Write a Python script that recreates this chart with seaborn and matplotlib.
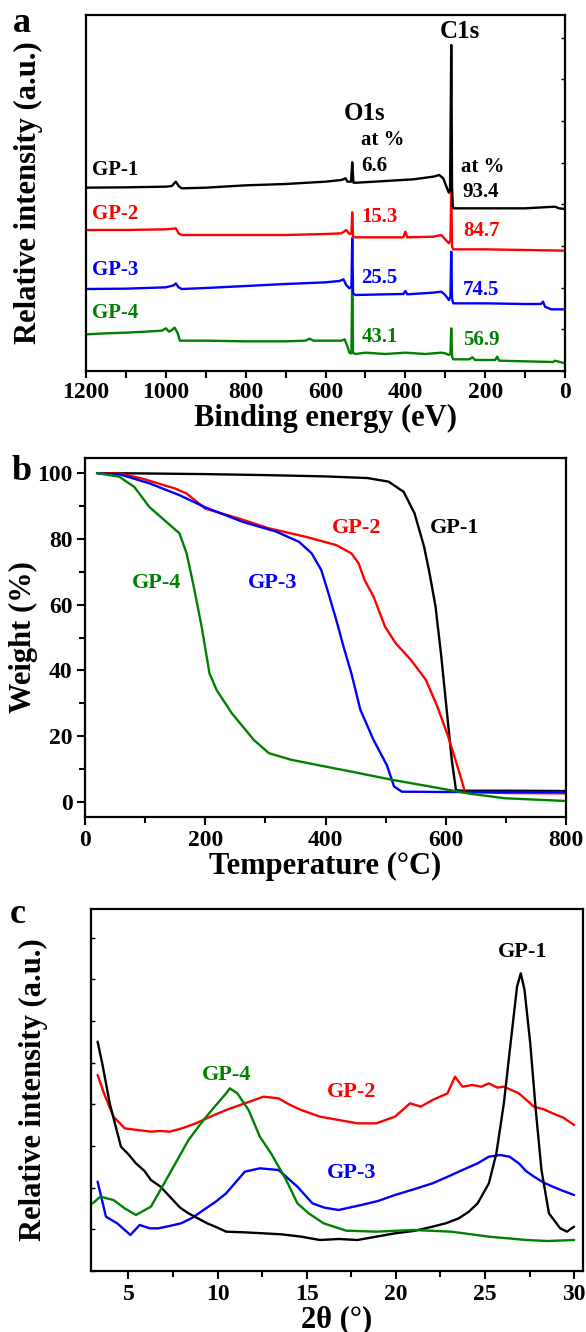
import matplotlib
matplotlib.use("Agg")
import numpy as np
import pandas as pd
import matplotlib.pyplot as plt
import seaborn as sns
from matplotlib.ticker import MultipleLocator

# ---------------- (a) XPS survey spectra ----------------
xps_energy_gp1 = [1200, 1100, 1000, 985, 975, 968, 960, 900, 800, 700, 600, 560, 550, 545,
                  536, 533, 530, 520, 450, 380, 330, 315, 305, 297, 291, 288, 286, 285, 284,
                  283, 281, 278, 200, 100, 25, 15, 0]
xps_int_gp1 = [55.0, 55.1, 55.3, 55.5, 56.8, 55.5, 54.8, 55.0, 55.7, 56.1, 56.8, 57.3, 57.8, 56.8,
               56.8, 62.6, 56.5, 56.5, 57.0, 57.5, 58.3, 58.8, 57.8, 55.3, 53.5, 54.3, 81.3, 97.8,
               81.3, 55.3, 49.3, 48.8, 48.8, 48.8, 49.3, 48.8, 48.6]

xps_energy_gp2 = [1200, 1100, 1000, 980, 975, 968, 960, 800, 700, 600, 560, 548, 540, 535, 533,
                  531, 525, 450, 405, 400, 395, 330, 310, 300, 291, 287, 285, 283, 280, 200,
                  100, 0]
xps_int_gp2 = [42.3, 42.3, 42.5, 42.7, 42.8, 41.3, 40.8, 40.8, 40.8, 41.1, 41.3, 42.3, 41.1, 41.3,
               47.6, 40.3, 40.1, 40.1, 40.1, 41.8, 40.1, 40.3, 40.8, 39.5, 38.3, 39.3, 53.8, 37.3,
               36.5, 36.5, 36.3, 36.1]

xps_energy_gp3 = [1200, 1100, 1000, 980, 975, 968, 960, 900, 800, 700, 600, 565, 555, 548, 540,
                  535, 533, 531, 525, 450, 405, 400, 395, 330, 310, 300, 291, 287, 285, 283,
                  280, 200, 100, 60, 55, 50, 35, 0]
xps_int_gp3 = [24.6, 24.7, 25.1, 25.7, 26.3, 25.1, 24.6, 24.9, 25.5, 26.1, 26.6, 27.0, 27.5, 25.8,
               24.8, 25.3, 39.8, 23.3, 22.8, 23.0, 23.1, 24.0, 23.0, 23.5, 23.8, 22.8, 21.3, 22.3,
               35.8, 21.8, 20.3, 20.3, 20.1, 20.1, 20.8, 19.3, 18.5, 18.5]

xps_energy_gp4 = [1200, 1150, 1100, 1050, 1010, 1000, 992, 985, 978, 970, 965, 900, 800, 700,
                  650, 640, 630, 560, 552, 545, 540, 535, 533, 531, 525, 500, 450, 400, 350,
                  310, 300, 291, 287, 285, 283, 280, 240, 232, 225, 175, 170, 165, 100, 30,
                  25, 0]
xps_int_gp4 = [11.0, 11.3, 11.5, 11.8, 12.1, 12.8, 11.8, 12.3, 13.0, 11.3, 9.1, 9.1, 8.9, 8.9,
               9.1, 9.7, 9.1, 9.1, 9.5, 7.3, 5.5, 5.3, 27.3, 5.5, 5.1, 5.5, 5.1, 5.5, 5.1,
               5.5, 5.3, 4.8, 5.1, 12.8, 4.3, 3.5, 3.5, 4.1, 3.3, 3.3, 4.3, 3.1, 2.9, 2.7,
               3.1, 2.3]

# ---------------- (b) TGA curves ----------------
tga_temp_gp1 = [20, 100, 200, 300, 400, 470, 505, 530, 548, 564, 573, 583, 592, 601, 610, 617,
                625, 700, 800]
tga_wt_gp1 = [100.0, 99.9, 99.7, 99.4, 99.0, 98.5, 97.4, 94.3, 87.8, 77.6, 69.6, 59.4, 45.2,
              29.0, 12.8, 3.6, 3.4, 3.4, 3.3]

tga_temp_gp2 = [20, 60, 94, 150, 169, 200, 256, 306, 368, 418, 443, 455, 465, 480, 499, 517,
                542, 567, 586, 604, 623, 632, 700, 800]
tga_wt_gp2 = [100.0, 99.8, 98.4, 95.3, 93.8, 89.2, 86.2, 83.2, 80.6, 78.1, 75.6, 72.6, 67.5,
              62.4, 53.3, 48.2, 43.2, 37.1, 29.0, 19.9, 8.7, 3.0, 2.7, 2.6]

tga_temp_gp3 = [20, 60, 107, 157, 200, 262, 318, 356, 377, 393, 405, 418, 430, 443, 458, 480,
                502, 514, 527, 600, 700, 800]
tga_wt_gp3 = [100.0, 99.5, 96.9, 93.3, 89.6, 85.2, 82.2, 79.1, 75.6, 70.5, 63.4, 55.3, 47.2,
              39.1, 28.0, 18.8, 11.2, 4.7, 3.1, 3.0, 3.0, 3.0]

tga_temp_gp4 = [20, 57, 82, 107, 132, 157, 169, 181, 194, 207, 219, 244, 281, 306, 343, 387,
                443, 511, 573, 636, 698, 797]
tga_wt_gp4 = [100.0, 98.9, 95.8, 89.7, 85.7, 81.7, 75.6, 65.4, 53.3, 39.1, 34.0, 27.0, 18.8,
              14.8, 12.8, 11.2, 9.2, 6.7, 4.7, 2.6, 1.1, 0.3]

# ---------------- (c) XRD patterns ----------------
xrd_2theta_gp1 = [3.27, 3.53, 3.95, 4.58, 5.0, 5.42, 5.9, 6.26, 6.8, 7.32, 7.9, 8.37, 9.0, 9.42,
                  10.0, 10.48, 11.5, 12.58, 13.6, 14.69, 15.74, 16.8, 17.85, 18.9, 19.95, 21.0,
                  22.06, 22.8, 23.53, 24.1, 24.59, 25.22, 25.64, 26.06, 26.48, 26.8, 27.01,
                  27.22, 27.54, 27.85, 28.17, 28.59, 29.22, 29.6, 30.0]
xrd_int_gp1 = [68.8, 62.3, 50.3, 37.3, 35.0, 32.3, 30.0, 27.3, 25.3, 22.3, 19.0, 17.3, 15.5, 14.3,
               13.0, 11.8, 11.6, 11.3, 11.0, 10.3, 9.3, 9.6, 9.3, 10.3, 11.3, 12.0, 13.3, 14.3,
               15.8, 17.8, 20.3, 26.3, 35.3, 50.3, 70.3, 85.3, 89.3, 84.3, 68.3, 48.3, 30.3,
               17.3, 12.8, 11.8, 13.3]

xrd_2theta_gp2 = [3.27, 3.63, 4.16, 4.79, 5.5, 6.26, 6.8, 7.32, 8.0, 8.79, 9.6, 10.48, 11.53,
                  12.58, 13.42, 14.0, 14.69, 15.74, 16.8, 17.85, 18.9, 19.95, 20.8, 21.4, 22.06,
                  22.9, 23.32, 23.74, 24.3, 24.8, 25.22, 25.7, 26.06, 26.9, 27.75, 28.3, 28.8,
                  29.4, 30.0]
xrd_int_gp2 = [58.8, 53.3, 46.3, 42.8, 42.3, 41.8, 42.0, 41.8, 42.8, 44.3, 46.3, 48.3, 50.3,
               52.3, 51.8, 50.0, 48.3, 46.3, 45.3, 44.3, 44.3, 46.3, 50.3, 49.3, 51.3, 53.3,
               58.3, 55.3, 55.8, 55.3, 56.3, 55.0, 55.3, 53.3, 49.3, 48.5, 47.3, 46.0, 43.8]

xrd_2theta_gp3 = [3.27, 3.74, 4.37, 5.11, 5.63, 6.2, 6.68, 7.3, 7.95, 8.6, 9.21, 9.9, 10.48,
                  11.53, 12.37, 13.42, 14.48, 15.32, 16.0, 16.79, 18.06, 19.0, 19.95, 21.0,
                  22.06, 23.0, 23.74, 24.59, 25.22, 25.85, 26.38, 26.9, 27.3, 27.75, 28.3,
                  28.8, 29.4, 30.0]
xrd_int_gp3 = [26.8, 16.3, 14.3, 10.8, 13.8, 12.8, 12.8, 13.5, 14.3, 16.0, 18.3, 20.8, 23.3,
               29.8, 30.8, 30.3, 25.3, 20.3, 19.0, 18.3, 19.8, 21.0, 22.8, 24.5, 26.3, 28.5,
               30.3, 32.3, 34.3, 34.8, 34.3, 32.3, 30.0, 28.3, 26.5, 25.3, 24.0, 22.8]

xrd_2theta_gp4 = [3.0, 3.42, 4.16, 4.79, 5.42, 6.26, 6.9, 7.53, 8.37, 9.21, 9.84, 10.48, 10.69,
                  11.11, 11.74, 12.37, 13.0, 13.85, 14.48, 15.11, 15.95, 17.22, 18.9, 21.01,
                  23.11, 25.22, 27.33, 28.5, 30.0]
xrd_int_gp4 = [20.3, 22.3, 21.3, 18.8, 16.8, 19.3, 25.3, 31.3, 39.3, 45.3, 49.3, 53.3, 54.8,
               53.3, 48.3, 40.3, 35.3, 27.3, 20.3, 17.3, 14.3, 12.1, 11.8, 12.3, 11.8, 10.3,
               9.3, 9.0, 9.3]

samples = ["GP-1", "GP-2", "GP-3", "GP-4"]
colors = {"GP-1": "#000000", "GP-2": "#ff0000", "GP-3": "#0000ff", "GP-4": "#008000"}

xps = pd.concat([
    pd.DataFrame({"energy": e, "intensity": i, "sample": s})
    for s, e, i in zip(samples,
                       [xps_energy_gp1, xps_energy_gp2, xps_energy_gp3, xps_energy_gp4],
                       [xps_int_gp1, xps_int_gp2, xps_int_gp3, xps_int_gp4])
], ignore_index=True)
tga = pd.concat([
    pd.DataFrame({"temp": t, "weight": w, "sample": s})
    for s, t, w in zip(samples,
                       [tga_temp_gp1, tga_temp_gp2, tga_temp_gp3, tga_temp_gp4],
                       [tga_wt_gp1, tga_wt_gp2, tga_wt_gp3, tga_wt_gp4])
], ignore_index=True)
xrd = pd.concat([
    pd.DataFrame({"two_theta": x, "intensity": y, "sample": s})
    for s, x, y in zip(samples,
                       [xrd_2theta_gp1, xrd_2theta_gp2, xrd_2theta_gp3, xrd_2theta_gp4],
                       [xrd_int_gp1, xrd_int_gp2, xrd_int_gp3, xrd_int_gp4])
], ignore_index=True)

sns.set_theme(style="ticks")
plt.rcParams["font.family"] = ["Liberation Serif", "DejaVu Serif"]
plt.rcParams["font.weight"] = "bold"
plt.rcParams["axes.labelweight"] = "bold"
plt.rcParams["axes.linewidth"] = 1.6
plt.rcParams["axes.edgecolor"] = "black"
plt.rcParams["text.color"] = "black"
plt.rcParams["axes.labelcolor"] = "black"
plt.rcParams["xtick.color"] = "black"
plt.rcParams["ytick.color"] = "black"

W, H = 586, 1332
fig = plt.figure(figsize=(W / 100, H / 100), dpi=100)


def axes_px(left, top, right, bottom):
    return fig.add_axes([left / W, 1 - bottom / H, (right - left) / W, (bottom - top) / H])


LW = 1.7
TICK_FS = 17
LABEL_FS = 22


def draw_lines(ax, df, x, y, order):
    for s in order:
        sub = df[df["sample"] == s]
        sns.lineplot(data=sub, x=x, y=y, ax=ax, color=colors[s], lw=LW,
                     estimator=None, sort=False, legend=False)


# ---- panel a ----
ax_a = axes_px(86, 15, 565, 371)
draw_lines(ax_a, xps, "energy", "intensity", ["GP-4", "GP-3", "GP-2", "GP-1"])
ax_a.set_xlim(1200, 0)
ax_a.set_ylim(0, 106.8)
ax_a.xaxis.set_major_locator(MultipleLocator(200))
ax_a.xaxis.set_minor_locator(MultipleLocator(100))
ax_a.yaxis.set_major_locator(MultipleLocator(12.5))
ax_a.tick_params(axis="x", which="both", direction="out", length=5, width=1.5,
                 labelsize=TICK_FS, pad=3)
ax_a.tick_params(axis="y", which="both", direction="in", length=3, width=1.0,
                 left=False, right=True, labelleft=False)
ax_a.set_xlabel("Binding energy (eV)", fontsize=LABEL_FS)
ax_a.set_ylabel("Relative intensity (a.u.)", fontsize=LABEL_FS)
ax_a.xaxis.set_label_coords(0.5, -0.132)
ax_a.xaxis.label.set_verticalalignment("center")
ax_a.yaxis.set_label_coords(-0.121, 0.5)
ax_a.yaxis.label.set_verticalalignment("center")

ax_a.text(264, 101.8, "C1s", fontsize=18, ha="center", va="center", color="black")
ax_a.text(503, 77.3, "O1s", fontsize=18, ha="center", va="center", color="black")
ax_a.text(510, 69.3, "at %", fontsize=15, ha="left", va="center", color="black")
ax_a.text(260, 61.3, "at %", fontsize=15, ha="left", va="center", color="black")

label_y_a = {"GP-1": 60.3, "GP-2": 47.0, "GP-3": 30.3, "GP-4": 17.3}
o_pct = {"GP-1": "6.6", "GP-2": "15.3", "GP-3": "25.5", "GP-4": "43.1"}
o_y = {"GP-1": 61.6, "GP-2": 46.1, "GP-3": 27.8, "GP-4": 10.3}
c_pct = {"GP-1": "93.4", "GP-2": "84.7", "GP-3": "74.5", "GP-4": "56.9"}
c_y = {"GP-1": 53.8, "GP-2": 42.1, "GP-3": 24.3, "GP-4": 9.3}
for s in samples:
    ax_a.text(1186, label_y_a[s], s, fontsize=15, ha="left", va="center", color=colors[s])
    ax_a.text(510, o_y[s], o_pct[s], fontsize=15, ha="left", va="center", color=colors[s])
    ax_a.text(256, c_y[s], c_pct[s], fontsize=15, ha="left", va="center", color=colors[s])

# ---- panel b ----
ax_b = axes_px(85, 458, 566, 817)
draw_lines(ax_b, tga, "temp", "weight", ["GP-1", "GP-2", "GP-3", "GP-4"])
ax_b.set_xlim(0, 800)
ax_b.set_ylim(-4.6, 104.6)
ax_b.xaxis.set_major_locator(MultipleLocator(200))
ax_b.xaxis.set_minor_locator(MultipleLocator(100))
ax_b.yaxis.set_major_locator(MultipleLocator(20))
ax_b.yaxis.set_minor_locator(MultipleLocator(10))
ax_b.tick_params(which="major", direction="out", length=6, width=1.5, labelsize=TICK_FS, pad=3)
ax_b.tick_params(which="minor", direction="out", length=4, width=1.5)
ax_b.set_xlabel("Temperature (°C)", fontsize=LABEL_FS)
ax_b.set_ylabel("Weight (%)", fontsize=LABEL_FS)
ax_b.xaxis.set_label_coords(0.5, -0.139)
ax_b.xaxis.label.set_verticalalignment("center")
ax_b.yaxis.set_label_coords(-0.127, 0.5)
ax_b.yaxis.label.set_verticalalignment("center")

tga_label_pos = {"GP-1": (614, 83.3), "GP-2": (451, 83.3), "GP-3": (312, 66.6), "GP-4": (119, 66.6)}
for s, (tx, ty) in tga_label_pos.items():
    ax_b.text(tx, ty, s, fontsize=16, ha="center", va="center", color=colors[s])

# ---- panel c ----
ax_c = axes_px(91, 909, 583, 1271)
draw_lines(ax_c, xrd, "two_theta", "intensity", ["GP-2", "GP-3", "GP-1", "GP-4"])
ax_c.set_xlim(2.9, 30.5)
ax_c.set_ylim(0, 108.6)
ax_c.xaxis.set_major_locator(MultipleLocator(5))
ax_c.xaxis.set_minor_locator(MultipleLocator(2.5))
ax_c.yaxis.set_major_locator(MultipleLocator(12.5))
ax_c.tick_params(axis="x", which="major", direction="out", length=6, width=1.5,
                 labelsize=TICK_FS, pad=3)
ax_c.tick_params(axis="x", which="minor", direction="out", length=4, width=1.5)
ax_c.tick_params(axis="y", which="both", direction="in", length=3, width=1.0,
                 left=True, right=False, labelleft=False)
ax_c.set_xlabel("2θ (°)", fontsize=LABEL_FS)
ax_c.set_ylabel("Relative intensity (a.u.)", fontsize=LABEL_FS)
ax_c.xaxis.set_label_coords(0.5, -0.135)
ax_c.xaxis.label.set_verticalalignment("center")
ax_c.yaxis.set_label_coords(-0.116, 0.5)
ax_c.yaxis.label.set_verticalalignment("center")

xrd_label_pos = {"GP-1": (27.11, 95.8), "GP-2": (17.53, 53.8), "GP-3": (17.53, 29.3), "GP-4": (10.48, 58.8)}
for s, (tx, ty) in xrd_label_pos.items():
    ax_c.text(tx, ty, s, fontsize=16, ha="center", va="center", color=colors[s])

# panel letters
fig.text(13 / W, 1 - 32 / H, "a", fontsize=26, ha="left", va="baseline")
fig.text(12 / W, 1 - 480 / H, "b", fontsize=26, ha="left", va="baseline")
fig.text(10 / W, 1 - 923 / H, "c", fontsize=26, ha="left", va="baseline")

fig.savefig("out.png", dpi=100)
